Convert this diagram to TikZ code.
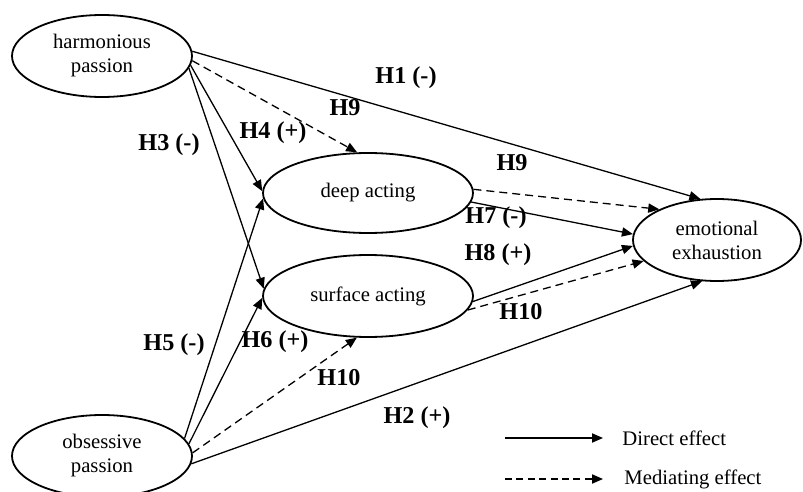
\documentclass[tikz,border=0pt]{standalone}
\usepackage{fontspec}
\setmainfont{Liberation Serif}
\usetikzlibrary{shapes.geometric,arrows.meta}

\tikzset{
  construct/.style={ellipse, draw, line width=0.9pt, inner sep=0pt,
    minimum width=#1, align=center, font=\fontsize{10.35}{12}\selectfont},
  construct/.default={105pt},
  effect/.style={line width=0.65pt, -{Triangle[length=5.5pt,width=4.6pt]}},
  mediated/.style={effect, dash pattern=on 4pt off 2.5pt},
  hyp/.style={font=\fontsize{12.1}{14}\selectfont\bfseries, inner sep=0pt},
  legendtext/.style={font=\fontsize{10.35}{12}\selectfont, anchor=west, inner sep=0pt}
}

\begin{document}
\begin{tikzpicture}[x=0.5pt, y=-0.5pt]
  \useasboundingbox (0,0) rectangle (803,492);
  \clip (0,0) rectangle (803,492);

  % constructs
  \node[construct=90pt, minimum height=41pt] (hp) at (102,56) {harmonious\\passion};
  \node[construct=105pt, minimum height=40pt] (da) at (368,193) {deep acting};
  \node[construct=105pt, minimum height=41pt] (sa) at (368,296) {surface acting};
  \node[construct=84pt, minimum height=41pt] (ee) at (717,240) {emotional\\exhaustion};
  \node[construct=90pt, minimum height=41pt] (op) at (102,456) {obsessive\\passion};

  % direct effects
  \draw[effect] (hp.3) -- (ee.112);
  \draw[effect] (hp.-6) -- (da.179);
  \draw[effect] (hp.-8) -- (sa.176);
  \draw[effect] (op.12) -- (da.183);
  \draw[effect] (op.8) -- (sa.181);
  \draw[effect] (op.-5) -- (ee.250);
  \draw[effect] (da.-5) -- (ee.176);
  \draw[effect] (sa.-3) -- (ee.184);

  % mediating effects
  \draw[mediated] (hp.-3) -- (da.105);
  \draw[mediated] (da.2) -- (ee.152);
  \draw[mediated] (op.2) -- (sa.255);
  \draw[mediated] (sa.-8) -- (ee.196);

  % hypothesis labels
  \node[hyp] (h1) at (406,78) {H1 (-)};
  \node[hyp] (h9a) at (345,108) {H9};
  \node[hyp] (h4) at (273,133) {H4 (+)};
  \node[hyp] (h3) at (169,145) {H3 (-)};
  \node[hyp] (h9b) at (512,163) {H9};
  \node[hyp] (h7) at (496,218) {H7 (-)};
  \node[hyp] (h8) at (498,255) {H8 (+)};
  \node[hyp] (h10b) at (521,312) {H10};
  \node[hyp] (h5) at (174,345) {H5 (-)};
  \node[hyp] (h6) at (275,342) {H6 (+)};
  \node[hyp] (h10a) at (339,378) {H10};
  \node[hyp] (h2) at (417,418) {H2 (+)};

  % legend
  \coordinate (ld1) at (505,438);
  \coordinate (ld2) at (603,438);
  \coordinate (lm1) at (505,479);
  \coordinate (lm2) at (603,479);
  \draw[effect] (ld1) -- (ld2);
  \draw[effect, dash pattern=on 3.5pt off 2.2pt] (lm1) -- (lm2);
  \node[legendtext] (ltd) at (622,438) {Direct effect};
  \node[legendtext] (ltm) at (624,479) {Mediating effect};
\end{tikzpicture}
\end{document}
